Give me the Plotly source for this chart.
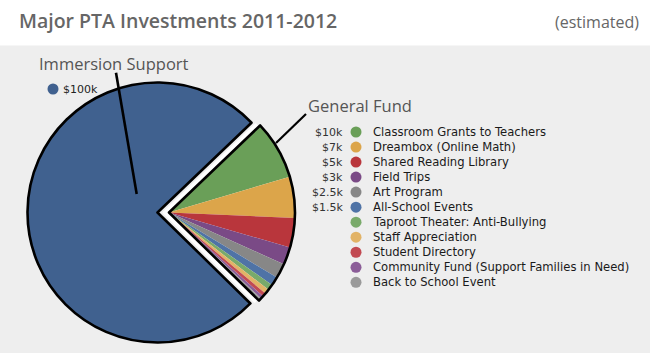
import plotly.graph_objects as go

# ---------------- data ----------------
categories = ["Classroom Grants to Teachers", "Dreambox (Online Math)", "Shared Reading Library",
              "Field Trips", "Art Program", "All-School Events", "Taproot Theater: Anti-Bullying",
              "Staff Appreciation", "Student Directory", "Community Fund (Support Families in Need)",
              "Back to School Event"]
values = [10, 7, 5, 3, 2.5, 1.5, 1.0, 0.8, 0.6, 0.5, 0.5]
value_labels = ["$10k", "$7k", "$5k", "$3k", "$2.5k", "$1.5k", "", "", "", "", ""]
colors = ["#6a9f58", "#dca54a", "#b9363c", "#7a4a86", "#878787", "#4f73a6",
          "#79aa6a", "#e2b366", "#c24a52", "#8b5d98", "#9a9a9a"]
immersion_label = "Immersion Support"
immersion_value = 100
immersion_value_label = "$100k"
immersion_color = "#40618f"
group_label = "General Fund"
title_text = "Major PTA Investments 2011-2012"
subtitle_text = "(estimated)"

# ---------------- layout helpers ----------------
W, H = 650, 353
T = "rgba(0,0,0,0)"
gf_total = sum(values)
rot = 46.3


def dom(cx, cy, r):
    return dict(x=[(cx - r) / W, (cx + r) / W], y=[(H - cy - r) / H, (H - cy + r) / H])


fig = go.Figure()

# main pie: Immersion Support, with hole for General Fund
fig.add_trace(go.Pie(values=[gf_total, immersion_value], labels=[group_label, immersion_label],
                     sort=False, direction="clockwise", rotation=rot, domain=dom(157.5, 212.5, 130),
                     marker=dict(colors=[T, immersion_color], line=dict(color=[T, "black"], width=[0, 2.6])),
                     textinfo="none", hoverinfo="skip", showlegend=False))
# white gap behind exploded wedge
fig.add_trace(go.Pie(values=[gf_total, immersion_value], labels=[group_label, immersion_label],
                     sort=False, direction="clockwise", rotation=rot, domain=dom(163.5, 212.5, 127.5),
                     marker=dict(colors=["white", T], line=dict(color=["white", T], width=[2, 0])),
                     textinfo="none", hoverinfo="skip", showlegend=False))
# general fund breakdown (exploded)
fig.add_trace(go.Pie(values=values + [immersion_value], labels=categories + [immersion_label],
                     sort=False, direction="clockwise", rotation=rot, domain=dom(169, 212.5, 126),
                     marker=dict(colors=colors + [T], line=dict(width=0)),
                     textinfo="none", hoverinfo="skip", showlegend=False))
# outline of exploded wedge
fig.add_trace(go.Pie(values=[gf_total, immersion_value], labels=[group_label, immersion_label],
                     sort=False, direction="clockwise", rotation=rot, domain=dom(169, 212.5, 126),
                     marker=dict(colors=[T, T], line=dict(color=["black", T], width=[2.6, 0])),
                     textinfo="none", hoverinfo="skip", showlegend=False))

# legend dots
row0, step = 132, 15.03
ys = [row0 + step * i for i in range(len(categories))]
fig.add_trace(go.Scatter(x=[356] * len(categories), y=ys, mode="markers",
                         marker=dict(size=11, color=colors, line=dict(width=0)),
                         hoverinfo="skip", showlegend=False))
fig.add_trace(go.Scatter(x=[53], y=[89], mode="markers",
                         marker=dict(size=11, color=immersion_color, line=dict(width=0)),
                         hoverinfo="skip", showlegend=False))

ann = []
for y, c, v in zip(ys, categories, value_labels):
    ann.append(dict(x=371, y=y, text=c, xanchor="left", yanchor="middle", showarrow=False,
                    font=dict(family="DejaVu Sans", size=11.6, color="#1a1a1a")))
    if v:
        ann.append(dict(x=345, y=y, text=v, xanchor="right", yanchor="middle", showarrow=False,
                        font=dict(family="DejaVu Sans", size=11, color="#333333")))
ann.append(dict(x=61, y=89, text=immersion_value_label, xanchor="left", yanchor="middle", showarrow=False,
                font=dict(family="DejaVu Sans", size=11, color="#222222")))
ann.append(dict(x=37, y=63, text=immersion_label, xanchor="left", yanchor="middle", showarrow=False,
                font=dict(family="Open Sans", size=16.5, color="#555555")))
ann.append(dict(x=306, y=105, text=group_label, xanchor="left", yanchor="middle", showarrow=False,
                font=dict(family="Open Sans", size=16.5, color="#555555")))
ann.append(dict(x=17, y=20, text=title_text, xanchor="left", yanchor="middle", showarrow=False,
                font=dict(family="Open Sans", size=19.5, color="#666666", weight=600)))
ann.append(dict(x=641, y=22, text=subtitle_text, xanchor="right", yanchor="middle", showarrow=False,
                font=dict(family="Open Sans", size=16, color="#666666", weight=500)))
for a in ann:
    a["xref"] = "x"
    a["yref"] = "y"

shapes = [
    dict(type="rect", xref="paper", yref="paper", x0=0, x1=1, y0=0, y1=(H - 45.5) / H,
         fillcolor="#eeeeee", line=dict(width=0), layer="below"),
    dict(type="line", xref="x", yref="y", x0=116, y0=72.7, x1=136.7, y1=194,
         line=dict(color="black", width=2.6), layer="above"),
    dict(type="line", xref="x", yref="y", x0=306, y0=114, x1=276, y1=143,
         line=dict(color="black", width=2.2), layer="above"),
]

fig.update_layout(
    width=W, height=H, margin=dict(l=0, r=0, t=0, b=0),
    paper_bgcolor="white", plot_bgcolor="rgba(0,0,0,0)",
    xaxis=dict(range=[0, W], visible=False, domain=[0, 1], fixedrange=True),
    yaxis=dict(range=[H, 0], visible=False, domain=[0, 1], fixedrange=True),
    annotations=ann, shapes=shapes, showlegend=False,
)

fig.write_html("out.html", config={"displayModeBar": False})
